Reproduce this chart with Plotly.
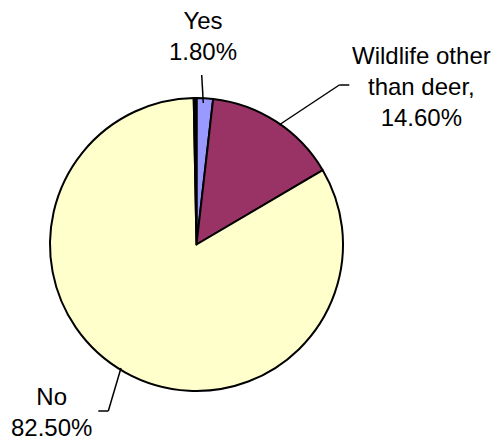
import plotly.graph_objects as go

labels = ["Yes", "Wildlife other than deer", "No", ""]
values = [1.8, 14.6, 82.5, 0.3]
colors = ["#9999FF", "#993366", "#FFFFCC", "#000000"]
label_texts = ["Yes<br>1.80%", "Wildlife other<br>than deer,<br>14.60%", "No<br>82.50%"]

W, H = 500, 441
L, R, T, B = 50, 157, 98, 50
PW, PH = W - L - R, H - T - B


def px(x):
    return (x - L) / PW


def py(y):
    return 1 - (y - T) / PH


fig = go.Figure(
    go.Pie(
        labels=labels,
        values=values,
        sort=False,
        direction="clockwise",
        rotation=0,
        marker=dict(colors=colors, line=dict(color="#000000", width=2)),
        textinfo="none",
        hoverinfo="label+percent",
        showlegend=False,
    )
)

font = dict(family="Liberation Sans, Arial, sans-serif", size=24, color="#000000")
ann_pos = [(203, 36), (421, 86), (51, 412)]
annotations = []
for txt, (x, y) in zip(label_texts, ann_pos):
    annotations.append(
        dict(
            x=px(x), y=py(y), xref="paper", yref="paper",
            text=txt, showarrow=False, xanchor="center", yanchor="middle",
            font=font, align="center",
        )
    )

leaders = [
    [(201.7, 75), (203.3, 103)],
    [(349.3, 85), (339.3, 85), (279, 125)],
    [(98.3, 411), (108.3, 411), (121, 368)],
]
shapes = []
for pts in leaders:
    for (x0, y0), (x1, y1) in zip(pts[:-1], pts[1:]):
        shapes.append(
            dict(
                type="line", xref="paper", yref="paper",
                x0=px(x0), y0=py(y0), x1=px(x1), y1=py(y1),
                line=dict(color="#000000", width=1.5),
            )
        )

fig.update_layout(
    width=W,
    height=H,
    margin=dict(l=L, r=R, t=T, b=B),
    paper_bgcolor="#FFFFFF",
    plot_bgcolor="#FFFFFF",
    annotations=annotations,
    shapes=shapes,
)

fig.write_html(
    "out.html",
    config={"displayModeBar": False},
    post_script="document.body.style.margin='0';document.body.style.overflow='hidden';",
)
